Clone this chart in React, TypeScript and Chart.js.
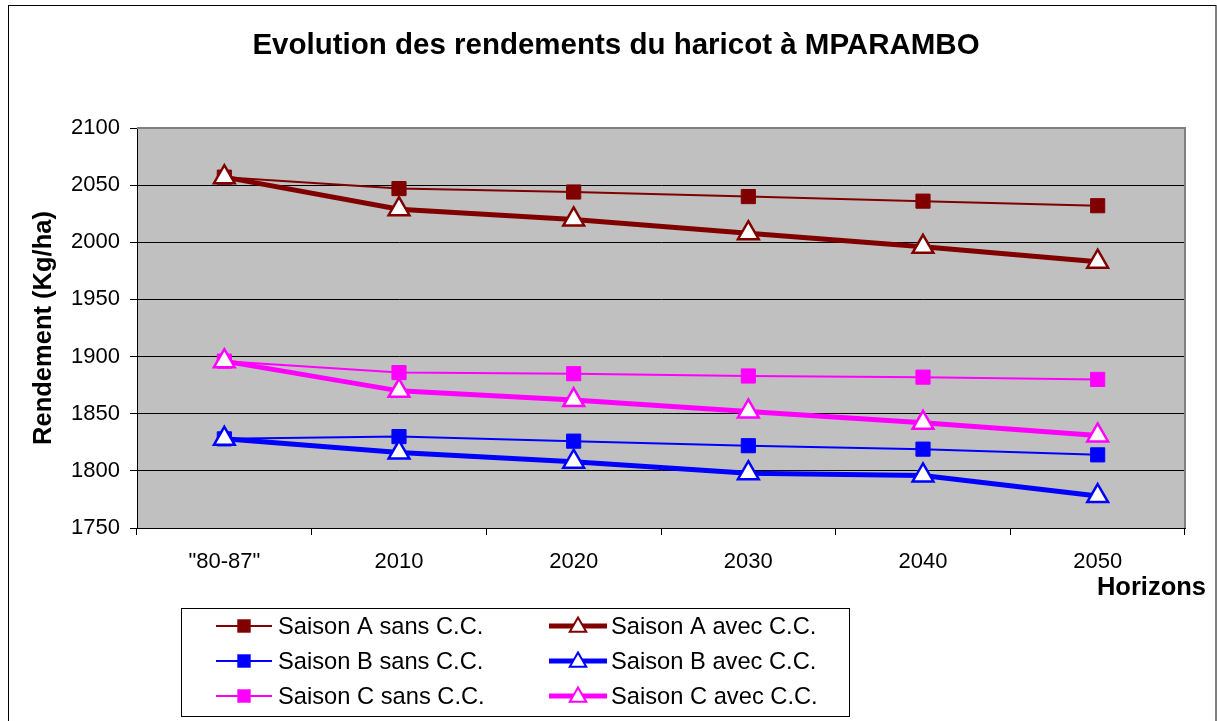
import React, { useEffect, useRef } from "react";
import { Chart, registerables } from "chart.js";

Chart.register(...registerables);

const categories = ['"80-87"', "2010", "2020", "2030", "2040", "2050"];
const saisonASans = [2057, 2047, 2044, 2040, 2036, 2032];
const saisonAAvec = [2057, 2029, 2020, 2008, 1996, 1983];
const saisonBSans = [1828, 1830, 1826, 1822, 1819, 1814];
const saisonBAvec = [1828, 1816, 1808, 1798, 1796, 1778];
const saisonCSans = [1896, 1886, 1885, 1883, 1882, 1880];
const saisonCAvec = [1896, 1870, 1862, 1852, 1842, 1831];
const yTicks = [1750, 1800, 1850, 1900, 1950, 2000, 2050, 2100];

const titleText = "Evolution des rendements du haricot à MPARAMBO";
const yTitle = "Rendement (Kg/ha)";
const xTitle = "Horizons";

const DARKRED = "#800000";
const BLUE = "#0000FF";
const MAGENTA = "#FF00FF";
const FONT = "'Liberation Sans', Arial, sans-serif";

type SeriesDef = { label: string; data: number[]; color: string; avec: boolean };
const series: SeriesDef[] = [
  { label: "Saison A sans C.C.", data: saisonASans, color: DARKRED, avec: false },
  { label: "Saison A avec C.C.", data: saisonAAvec, color: DARKRED, avec: true },
  { label: "Saison B sans C.C.", data: saisonBSans, color: BLUE, avec: false },
  { label: "Saison B avec C.C.", data: saisonBAvec, color: BLUE, avec: true },
  { label: "Saison C sans C.C.", data: saisonCSans, color: MAGENTA, avec: false },
  { label: "Saison C avec C.C.", data: saisonCAvec, color: MAGENTA, avec: true },
];

function drawMarker(ctx: CanvasRenderingContext2D, avec: boolean, color: string, x: number, y: number, r: number) {
  ctx.beginPath();
  if (avec) {
    const w = r * Math.sin(Math.PI / 3);
    ctx.moveTo(x, y - r);
    ctx.lineTo(x + w, y + r / 2);
    ctx.lineTo(x - w, y + r / 2);
    ctx.closePath();
    ctx.fillStyle = "#ffffff";
    ctx.fill();
    ctx.strokeStyle = color;
    ctx.lineWidth = 2;
    ctx.stroke();
  } else {
    const h = r * Math.SQRT1_2;
    ctx.rect(x - h, y - h, 2 * h, 2 * h);
    ctx.fillStyle = color;
    ctx.fill();
  }
}

const decorPlugin = {
  id: "decor",
  beforeDraw(chart: any) {
    const { ctx, chartArea: a } = chart;
    ctx.save();
    ctx.fillStyle = "#ffffff";
    ctx.fillRect(0, 0, chart.width, chart.height);
    ctx.fillStyle = "#C0C0C0";
    ctx.fillRect(a.left, a.top, a.right - a.left, a.bottom - a.top);
    ctx.restore();
  },
  beforeDatasetsDraw(chart: any) {
    const { ctx, chartArea: a } = chart;
    ctx.save();
    ctx.strokeStyle = "#808080";
    ctx.lineWidth = 2;
    ctx.beginPath();
    ctx.moveTo(a.left, a.top);
    ctx.lineTo(a.right, a.top);
    ctx.lineTo(a.right, a.bottom);
    ctx.stroke();
    ctx.restore();
  },
  afterDraw(chart: any) {
    const { ctx } = chart;
    ctx.save();
    ctx.strokeStyle = "#000000";
    ctx.lineWidth = 1;
    ctx.strokeRect(8.5, 5.5, chart.width - 9.5, chart.height + 10);
    ctx.fillStyle = "#000000";
    ctx.font = `bold 29.5px ${FONT}`;
    ctx.textAlign = "center";
    ctx.textBaseline = "middle";
    ctx.fillText(titleText, 616, 46);
    ctx.font = `bold 25.5px ${FONT}`;
    ctx.textAlign = "right";
    ctx.fillText(xTitle, 1206, 588);
    const lx = 181, ly = 608, lw = 668, lh = 108;
    ctx.strokeStyle = "#000000";
    ctx.lineWidth = 1;
    ctx.strokeRect(lx + 0.5, ly + 0.5, lw, lh);
    const rows = [626, 661, 696];
    const cols = [{ x0: 216, x1: 272, t: 278 }, { x0: 549, x1: 607, t: 611 }];
    series.forEach((s, i) => {
      const col = cols[i % 2];
      const row = rows[Math.floor(i / 2)];
      ctx.strokeStyle = s.color;
      ctx.lineWidth = s.avec ? 5 : 2;
      ctx.beginPath();
      ctx.moveTo(col.x0, row);
      ctx.lineTo(col.x1, row);
      ctx.stroke();
      const cx = (col.x0 + col.x1) / 2;
      drawMarker(ctx, s.avec, s.color, cx, s.avec ? row + 1 : row, 9.5);
      ctx.fillStyle = "#000000";
      ctx.font = `23.7px ${FONT}`;
      ctx.textAlign = "left";
      ctx.textBaseline = "middle";
      ctx.fillText(s.label, col.t, row + 1);
    });
    ctx.restore();
  },
};

export default function App() {
  const canvasRef = useRef<HTMLCanvasElement | null>(null);

  useEffect(() => {
    if (!canvasRef.current) return;
    const datasets = series.map((s) => ({
      label: s.label,
      data: s.data,
      borderColor: s.color,
      backgroundColor: s.avec ? "#ffffff" : s.color,
      borderWidth: s.avec ? 5 : 2,
      pointStyle: s.avec ? "triangle" : "rect",
      pointRadius: s.avec ? 12 : 10,
      pointBorderWidth: s.avec ? 2.5 : 1,
      pointBackgroundColor: s.avec ? "#ffffff" : s.color,
      pointBorderColor: s.color,
      tension: 0,
      order: s.avec ? 1 : 2,
    }));
    const chart = new Chart(canvasRef.current, {
      type: "line",
      data: { labels: categories, datasets },
      plugins: [decorPlugin],
      options: {
        responsive: false,
        animation: false,
        devicePixelRatio: 1,
        layout: { padding: { left: 0, top: 128, right: 32, bottom: 133 } },
        plugins: {
          legend: { display: false },
          title: { display: false },
          tooltip: { enabled: false },
        },
        scales: {
          x: {
            type: "category",
            offset: true,
            afterFit: (s: any) => { s.height = 60; },
            grid: {
              offset: true,
              drawOnChartArea: false,
              drawTicks: true,
              tickLength: 7,
              color: "#000000",
              lineWidth: 1,
            },
            border: { display: true, color: "#000000", width: 1 },
            ticks: {
              color: "#000000",
              font: { family: FONT, size: 22 },
              padding: 14,
              maxRotation: 0,
            },
          },
          y: {
            min: 1750,
            max: 2100,
            afterFit: (s: any) => { s.width = 137; },
            afterBuildTicks: (s: any) => { s.ticks = yTicks.map((v) => ({ value: v })); },
            grid: {
              drawOnChartArea: true,
              drawTicks: true,
              tickLength: 7,
              color: "#000000",
              lineWidth: 1,
            },
            border: { display: true, color: "#000000", width: 1 },
            ticks: {
              color: "#000000",
              font: { family: FONT, size: 22 },
              padding: 10,
              callback: (v: any) => String(v),
            },
            title: {
              display: true,
              text: yTitle,
              color: "#000000",
              font: { family: FONT, size: 25.5, weight: "bold" },
              padding: { top: 29, bottom: 0 },
            },
          },
        },
      },
    } as any);
    return () => chart.destroy();
  }, []);

  return (
    <div style={{ position: "absolute", left: 0, top: 0, width: 1217, height: 721 }}>
      <canvas ref={canvasRef} width={1217} height={721} style={{ display: "block" }} />
    </div>
  );
}
